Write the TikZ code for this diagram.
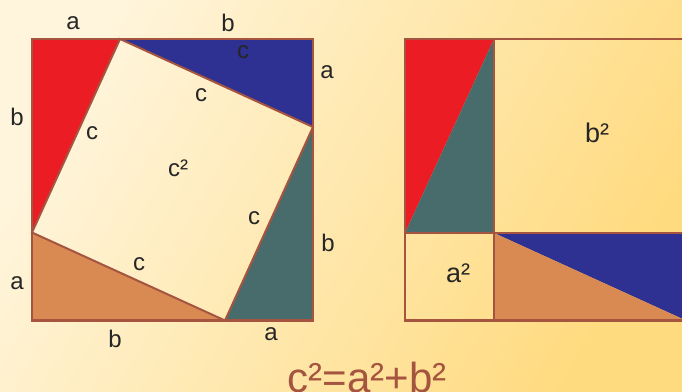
\documentclass[tikz,border=0pt]{standalone}
\usepackage{fontspec}
\setmainfont{Liberation Sans}
\definecolor{bgA}{HTML}{FFF5DC}
\definecolor{bgB}{HTML}{FFDB80}
\definecolor{edge}{HTML}{A5553F}
\definecolor{tred}{HTML}{EC1C24}
\definecolor{tblue}{HTML}{2E3192}
\definecolor{tteal}{HTML}{486C6C}
\definecolor{torange}{HTML}{D88A52}
\tikzset{
  lbl/.style={font=\fontsize{24}{24}\selectfont, text=black!85, inner sep=0pt},
  biglbl/.style={font=\fontsize{27}{27}\selectfont, text=black!85, inner sep=0pt},
  outer/.style={draw=edge, line width=2.5pt, line join=miter},
  inner/.style={draw=edge, line width=2pt, line join=miter},
  thin/.style={draw=edge, line width=1.1pt},
}
\begin{document}
\begin{tikzpicture}[x=1pt,y=-1pt]
\useasboundingbox (0,0) rectangle (682,391);
\clip (0,0) rectangle (682,391);
\shade[left color=bgA, right color=bgB, shading angle=60] (0,0) rectangle (682,391);
% left square corners
\coordinate (TL) at (32,39);
\coordinate (TR) at (313,39);
\coordinate (BR) at (313,320.5);
\coordinate (BL) at (32,320.5);
% inner square vertices
\coordinate (P) at (120,39);
\coordinate (Q) at (313,127);
\coordinate (R) at (225,320.5);
\coordinate (S) at (32,232.5);
\fill[tred] (TL) -- (P) -- (S) -- cycle;
\fill[tblue] (P) -- (TR) -- (Q) -- cycle;
\fill[tteal] (Q) -- (BR) -- (R) -- cycle;
\fill[torange] (S) -- (R) -- (BL) -- cycle;
\draw[inner] (P) -- (Q) -- (R) -- (S) -- cycle;
\draw[outer] (TL) -- (TR) -- (BR) -- (BL) -- cycle;
% right figure
\coordinate (A1) at (405,39);
\coordinate (A2) at (494,39);
\coordinate (A3) at (686,39);
\coordinate (B1) at (405,233);
\coordinate (B2) at (494,233);
\coordinate (B3) at (686,233);
\coordinate (C1) at (405,320.5);
\coordinate (C2) at (494,320.5);
\coordinate (C3) at (686,320.5);
\fill[tred] (A1) -- (A2) -- (B1) -- cycle;
\fill[tteal] (A2) -- (B2) -- (B1) -- cycle;
\fill[tblue] (B2) -- (B3) -- (C3) -- cycle;
\fill[torange] (B2) -- (C3) -- (C2) -- cycle;
\draw[thin] (A2) -- (C2);
\draw[thin] (B1) -- (B3);
\draw[outer] (A1) -- (A3) -- (C3) -- (C1) -- cycle;
% labels
\node[lbl] (la1) at (73,23) {a};
\node[lbl] (lb1) at (228,23) {b};
\node[lbl] (lc1) at (243,52) {c};
\node[lbl] (la2) at (327,72) {a};
\node[lbl] (lb2) at (17,117) {b};
\node[lbl] (lc2) at (201,95) {c};
\node[lbl] (lc3) at (92,133) {c};
\node[lbl] (lcc) at (178,168) {c²};
\node[lbl] (lc4) at (254,218) {c};
\node[lbl] (lb3) at (328,243) {b};
\node[lbl] (lc5) at (139,264) {c};
\node[lbl] (la3) at (17,283) {a};
\node[lbl] (lb4) at (115,339) {b};
\node[lbl] (la4) at (271,334) {a};
\node[biglbl] (lbb) at (597,133) {b²};
\node[biglbl] (laa) at (458,273) {a²};
\node[font=\fontsize{42}{42}\selectfont, text=edge, inner sep=0pt, anchor=base] (eq) at (367,392) {c²=a²+b²};
\end{tikzpicture}
\end{document}
